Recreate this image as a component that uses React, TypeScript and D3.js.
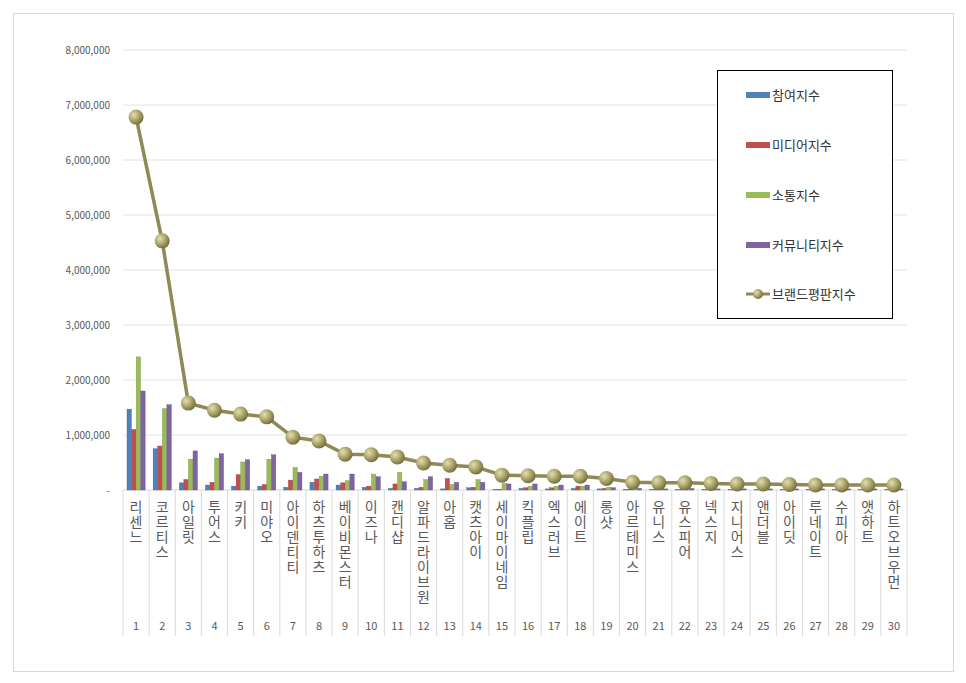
import React from "react";
import * as d3 from "d3";

const categories = ["리센느","코르티스","아일릿","투어스","키키","미야오","아이덴티티","하츠투하츠","베이비몬스터","이즈나","캔디샵","알파드라이브원","아홉","캣츠아이","세이마이네임","킥플립","엑스러브","에이트","롱샷","아르테미스","유니스","유스피어","넥스지","지니어스","앤더블","아이딧","루네이트","수피아","앳하트","하트오브우먼"];
const ranks = categories.map((_, i) => String(i + 1));
const participation = [1.47,0.75,0.13,0.09,0.07,0.07,0.05,0.14,0.09,0.05,0.03,0.03,0.02,0.04,0.01,0.03,0.02,0.03,0.02,0.01,0.01,0.01,0.01,0.01,0.01,0.01,0.01,0.01,0.01,0.01];
const media = [1.10,0.80,0.19,0.14,0.28,0.10,0.18,0.20,0.13,0.07,0.11,0.05,0.21,0.05,0.01,0.04,0.04,0.07,0.03,0.02,0.01,0.02,0.01,0.02,0.01,0.01,0.01,0.01,0.01,0.01];
const communication = [2.42,1.48,0.56,0.58,0.51,0.56,0.41,0.25,0.17,0.29,0.32,0.19,0.10,0.19,0.12,0.07,0.07,0.07,0.05,0.03,0.02,0.02,0.02,0.02,0.02,0.02,0.02,0.02,0.02,0.02];
const community = [1.80,1.55,0.71,0.66,0.55,0.64,0.32,0.29,0.29,0.24,0.15,0.24,0.14,0.14,0.11,0.11,0.09,0.09,0.04,0.03,0.02,0.03,0.02,0.02,0.02,0.02,0.02,0.02,0.02,0.02];
const brand = [6.78,4.53,1.58,1.45,1.38,1.33,0.96,0.89,0.65,0.64,0.60,0.49,0.45,0.42,0.27,0.26,0.25,0.25,0.21,0.14,0.13,0.13,0.12,0.11,0.11,0.10,0.09,0.09,0.09,0.09];
const seriesNames = ["참여지수","미디어지수","소통지수","커뮤니티지수"];
const lineName = "브랜드평판지수";
const yTicks = [0,1,2,3,4,5,6,7,8];
const colors = ["#4f81bd","#c0504d","#9bbb59","#8064a2"];
const lineColor = "#8f8a55";

export default function App() {
  const W = 966, H = 683;
  const left = 123, right = 907, top = 50, bottom = 490;
  const x = d3.scaleBand<string>().domain(ranks).range([left, right]);
  const y = d3.scaleLinear().domain([0, 8]).range([bottom, top]);
  const inner = d3.scaleBand<number>().domain([0,1,2,3]).range([4, x.bandwidth() - 4]).paddingInner(0.05);
  const data = [participation, media, communication, community];
  const line = d3.line<number>().x((_, i) => x(ranks[i])! + x.bandwidth() / 2).y(d => y(d));
  const fmt = (v: number) => v === 0 ? "-" : d3.format(",")(v * 1e6);
  return (
    <svg width={W} height={H} style={{ position: "absolute", left: 0, top: 0 }} fontFamily="'Noto Sans CJK KR', 'Noto Sans', sans-serif">
      <defs>
        <radialGradient id="ball" cx="35%" cy="35%" r="70%">
          <stop offset="0%" stopColor="#e4dfb0" />
          <stop offset="60%" stopColor="#a49d62" />
          <stop offset="100%" stopColor="#6f6a3c" />
        </radialGradient>
      </defs>
      <rect x={13.5} y={13.5} width={940} height={658} fill="#fff" stroke="#d9d9d9" />
      {yTicks.map(t => (
        <g key={t}>
          {t > 0 && <line x1={left} x2={right} y1={y(t)} y2={y(t)} stroke="#e3e3e3" />}
          <text x={110} y={y(t) + 4} textAnchor="end" fontSize={10} fill="#595959">{fmt(t)}</text>
        </g>
      ))}
      <line x1={left} x2={right} y1={bottom} y2={bottom} stroke="#d9d9d9" />
      {ranks.concat(["end"]).map((r, i) => {
        const xx = i < ranks.length ? x(r)! : right;
        return <line key={i} x1={xx} x2={xx} y1={bottom} y2={636} stroke="#d9d9d9" />;
      })}
      {data.map((s, si) => s.map((v, i) => (
        <rect key={si + "-" + i} x={x(ranks[i])! + inner(si)!} y={y(v)} width={inner.bandwidth()} height={bottom - y(v)} fill={colors[si]} stroke={d3.color(colors[si])!.darker(0.6).toString()} strokeWidth={0.4} />
      )))}
      <path d={line(brand)!} fill="none" stroke={lineColor} strokeWidth={3.5} />
      {brand.map((v, i) => (
        <circle key={i} cx={x(ranks[i])! + x.bandwidth() / 2} cy={y(v)} r={7.5} fill="url(#ball)" />
      ))}
      {categories.map((c, i) => (
        <g key={c}>
          <text x={x(ranks[i])! + x.bandwidth() / 2} y={500} fontSize={14} fill="#595959"
            style={{ writingMode: "vertical-rl", textOrientation: "upright", letterSpacing: "1px" } as any}>{c}</text>
          <text x={x(ranks[i])! + x.bandwidth() / 2} y={630} textAnchor="middle" fontSize={11} fill="#595959">{ranks[i]}</text>
        </g>
      ))}
      <rect x={717.5} y={70.5} width={175} height={248} fill="#fff" stroke="#000" />
      {seriesNames.map((n, i) => (
        <g key={n}>
          <rect x={746} y={92 + i * 50} width={24} height={6} fill={colors[i]} />
          <text x={772} y={100 + i * 50} fontSize={13} fill="#333">{n}</text>
        </g>
      ))}
      <line x1={746} x2={770} y1={294} y2={294} stroke={lineColor} strokeWidth={3} />
      <circle cx={758} cy={294} r={5} fill="url(#ball)" />
      <text x={772} y={299} fontSize={13} fill="#333">{lineName}</text>
    </svg>
  );
}
